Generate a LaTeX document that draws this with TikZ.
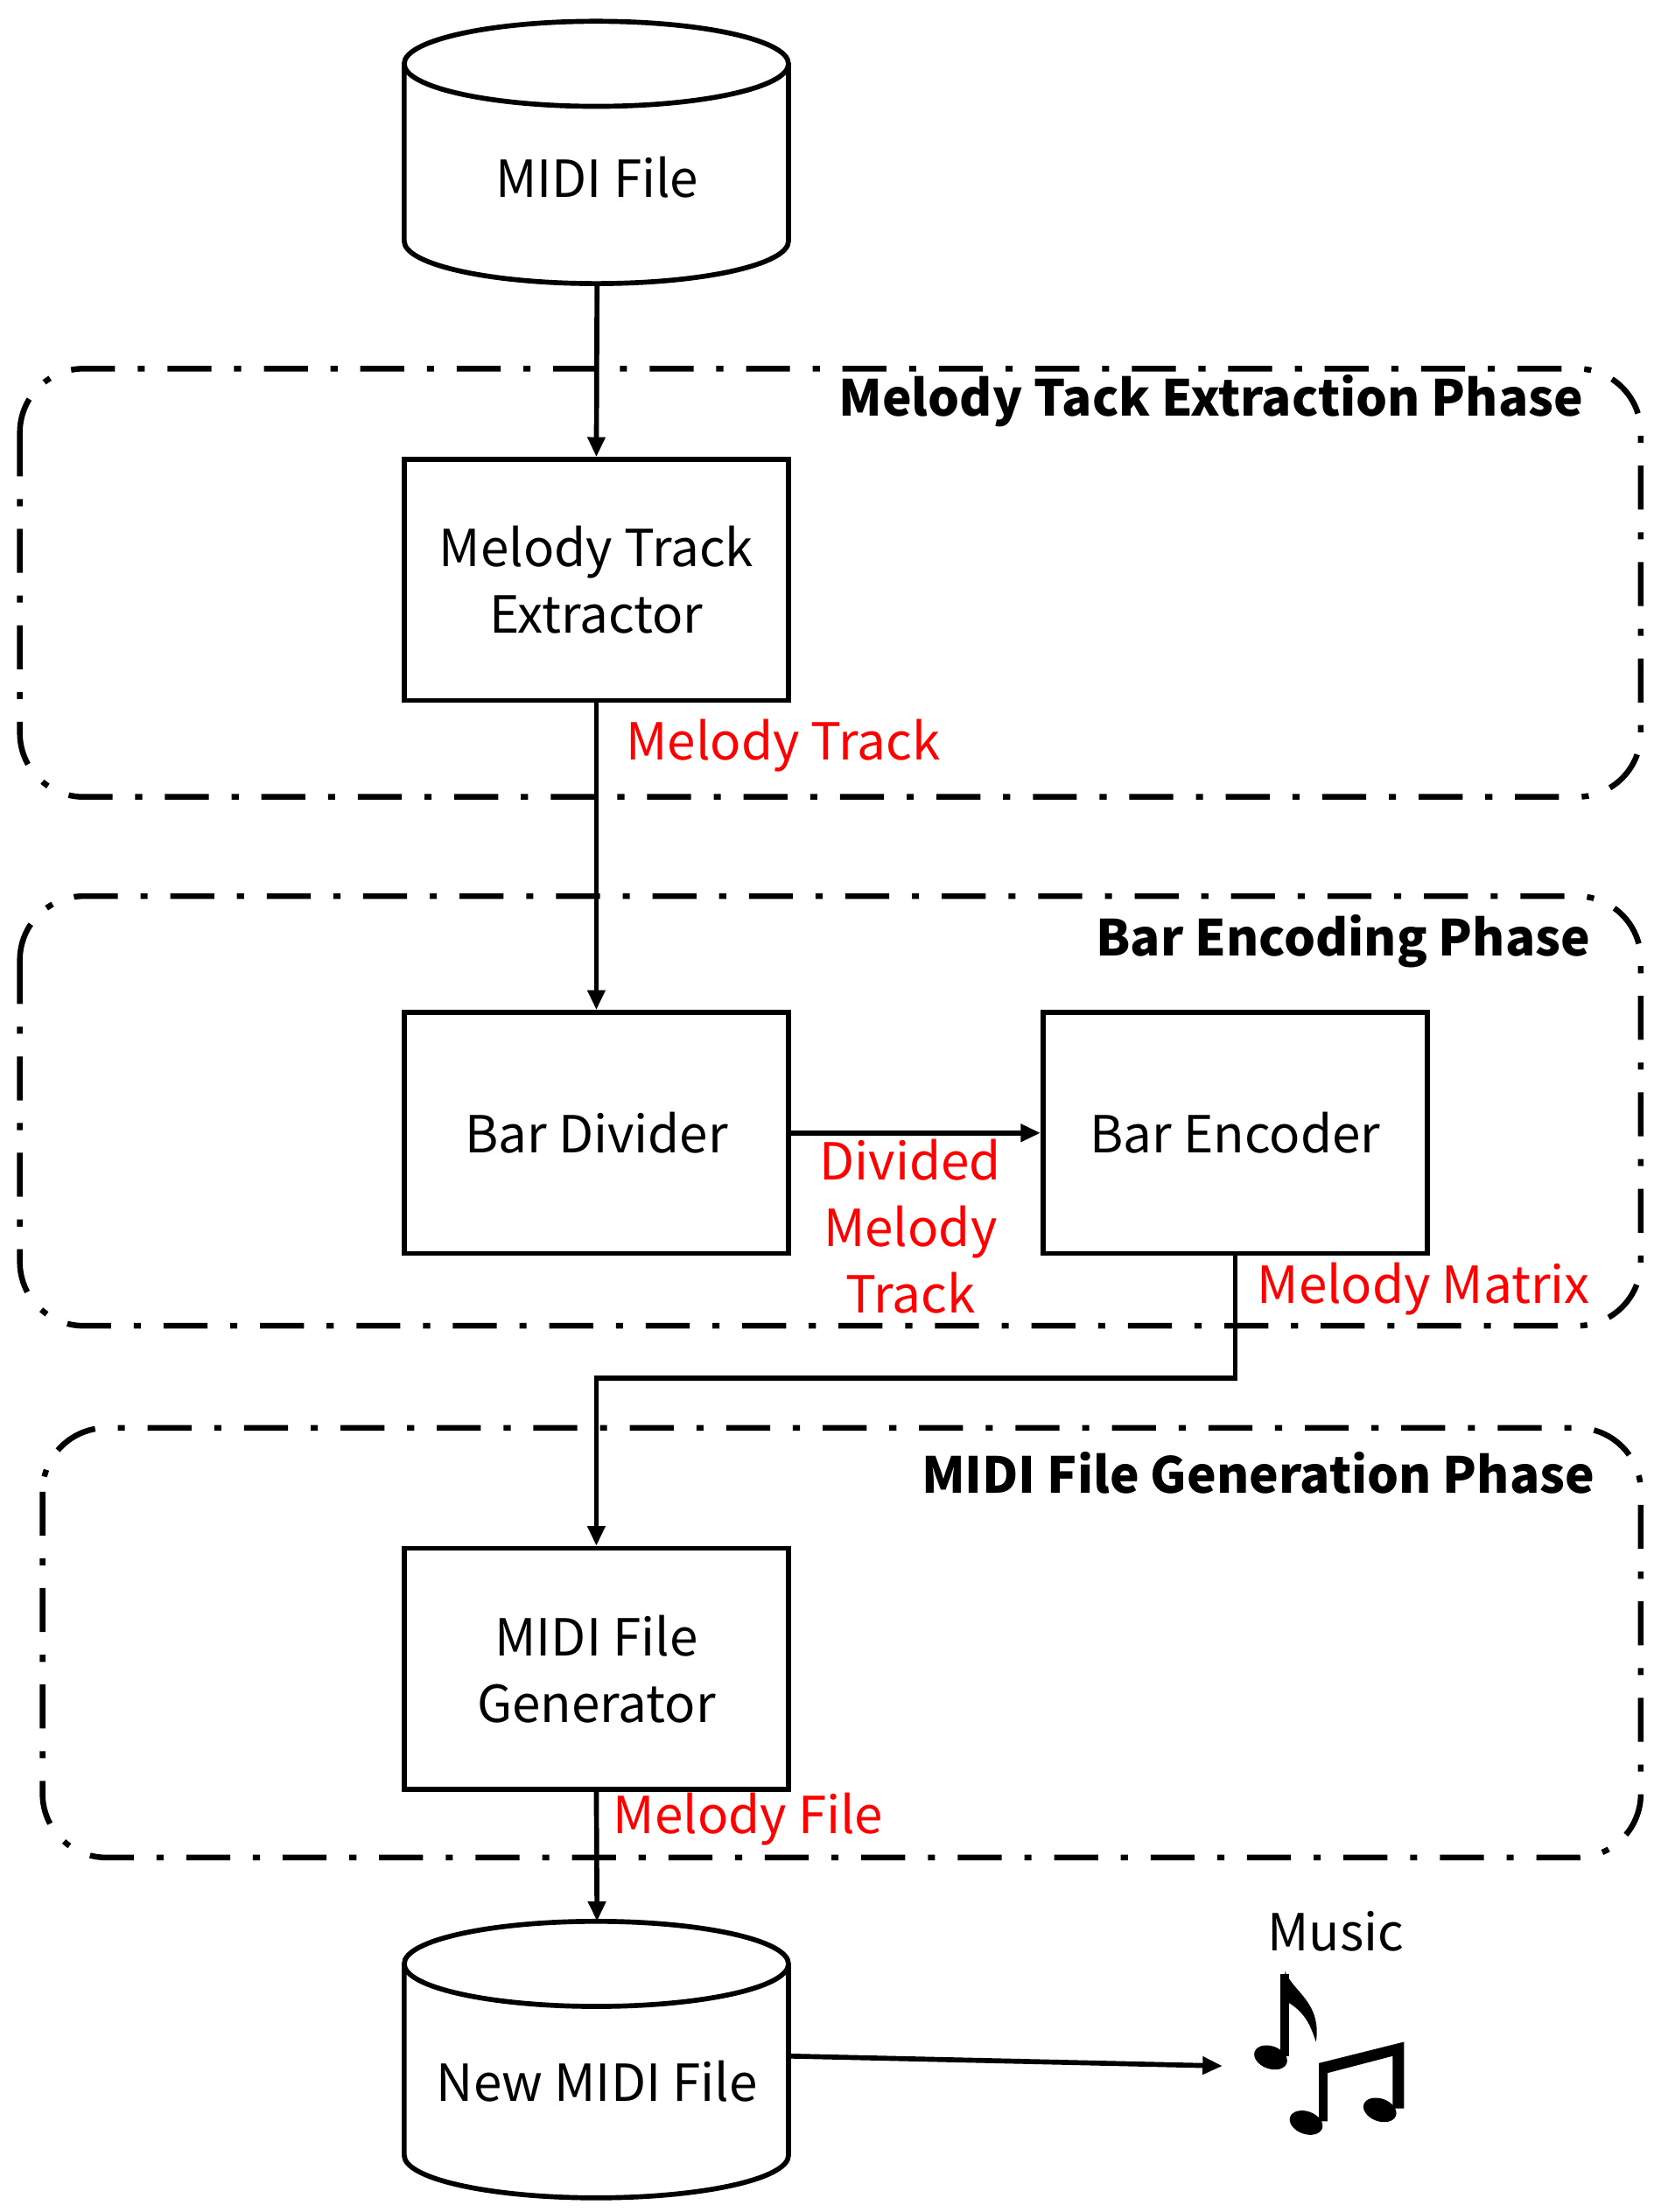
\documentclass[tikz,border=0pt]{standalone}
\usepackage{fontspec}
\setmainfont{Noto Sans CJK SC}
\usetikzlibrary{arrows.meta}
\begin{document}
\begin{tikzpicture}[x=1pt,y=-1pt,
  lw/.style={line width=3.5pt},
  box/.style={draw,lw,minimum width=271pt,minimum height=170pt,align=center,inner sep=0pt,font=\fontsize{36}{47}\selectfont},
  phase/.style={draw,line width=4pt,rounded corners=45pt,dash pattern=on 31pt off 16pt on 5pt off 16pt},
  ttl/.style={font=\bfseries\fontsize{35}{40}\selectfont,anchor=east},
  red/.style={text=red,font=\fontsize{36}{47}\selectfont},
  arr/.style={lw,-{Triangle[length=14pt,width=12pt]}}]
\useasboundingbox (0,0) rectangle (1166,1560);
% phases
\draw[phase] (14,260) rectangle (1157,562);
\draw[phase] (14,632) rectangle (1157,935);
\draw[phase] (30,1007) rectangle (1157,1310);
\node[ttl] (t1) at (1120,283) {Melody Tack Extraction Phase};
\node[ttl] (t2) at (1125,664) {Bar Encoding Phase};
\node[ttl] (t3) at (1128,1039) {MIDI File Generation Phase};
% cylinders
\draw[lw,fill=white] (285,45) -- (285,170) arc[start angle=180,end angle=360,x radius=135.5pt,y radius=30pt] -- (556,45) arc[start angle=0,end angle=360,x radius=135.5pt,y radius=30pt];
\node[font=\fontsize{36}{40}\selectfont] (midi) at (421,125) {MIDI File};
\coordinate (midib) at (421,200);
\draw[lw,fill=white] (285,1385) -- (285,1520) arc[start angle=180,end angle=360,x radius=135.5pt,y radius=30pt] -- (556,1385) arc[start angle=0,end angle=360,x radius=135.5pt,y radius=30pt];
\node[font=\fontsize{36}{40}\selectfont] (newm) at (421,1468) {New MIDI File};
\coordinate (newt) at (421,1355);
\coordinate (newr) at (556,1450);
% boxes
\node[box] (ext) at (420.5,409) {Melody Track\\Extractor};
\node[box] (div) at (420.5,799) {Bar Divider};
\node[box] (enc) at (871,799) {Bar Encoder};
\node[box] (gen) at (420.5,1177) {MIDI File\\Generator};
% arrows
\draw[arr] (midib) -- (ext.north);
\draw[arr] (ext.south) -- (div.north);
\draw[arr] (div.east) -- (enc.west);
\draw[arr] (enc.south) -- (871,972) -- (420.5,972) -- (gen.north);
\draw[arr] (gen.south) -- (newt);
\coordinate (mus) at (862,1457);
\draw[arr] (newr) -- (mus);
% labels
\node[red,anchor=west] (l1) at (438,526) {Melody Track};
\node[red,align=center] (l2) at (642,865) {Divided\\Melody\\Track};
\node[red,anchor=west] (l3) at (883,909) {Melody Matrix};
\node[red,anchor=west] (l4) at (429,1283) {Melody File};
\node[font=\fontsize{36}{40}\selectfont] (music) at (942,1362) {Music};
% notes
\fill[rotate around={-20:(896,1451)}] (896,1451) ellipse[x radius=12pt,y radius=8pt];
\fill (903,1450) rectangle (909,1392);
\fill (906,1390) .. controls (912,1405) and (932,1412) .. (928,1440) .. controls (925,1432) and (922,1420) .. (908,1412) -- cycle;
\fill[rotate around={-20:(921,1497)}] (921,1497) ellipse[x radius=12pt,y radius=8pt];
\fill[rotate around={-20:(973,1488)}] (973,1488) ellipse[x radius=12pt,y radius=8pt];
\fill (930,1496) -- (930,1455) -- (990,1440) -- (990,1487) -- (982,1487) -- (982,1450) -- (936,1462) -- (936,1496) -- cycle;
\end{tikzpicture}
\end{document}
